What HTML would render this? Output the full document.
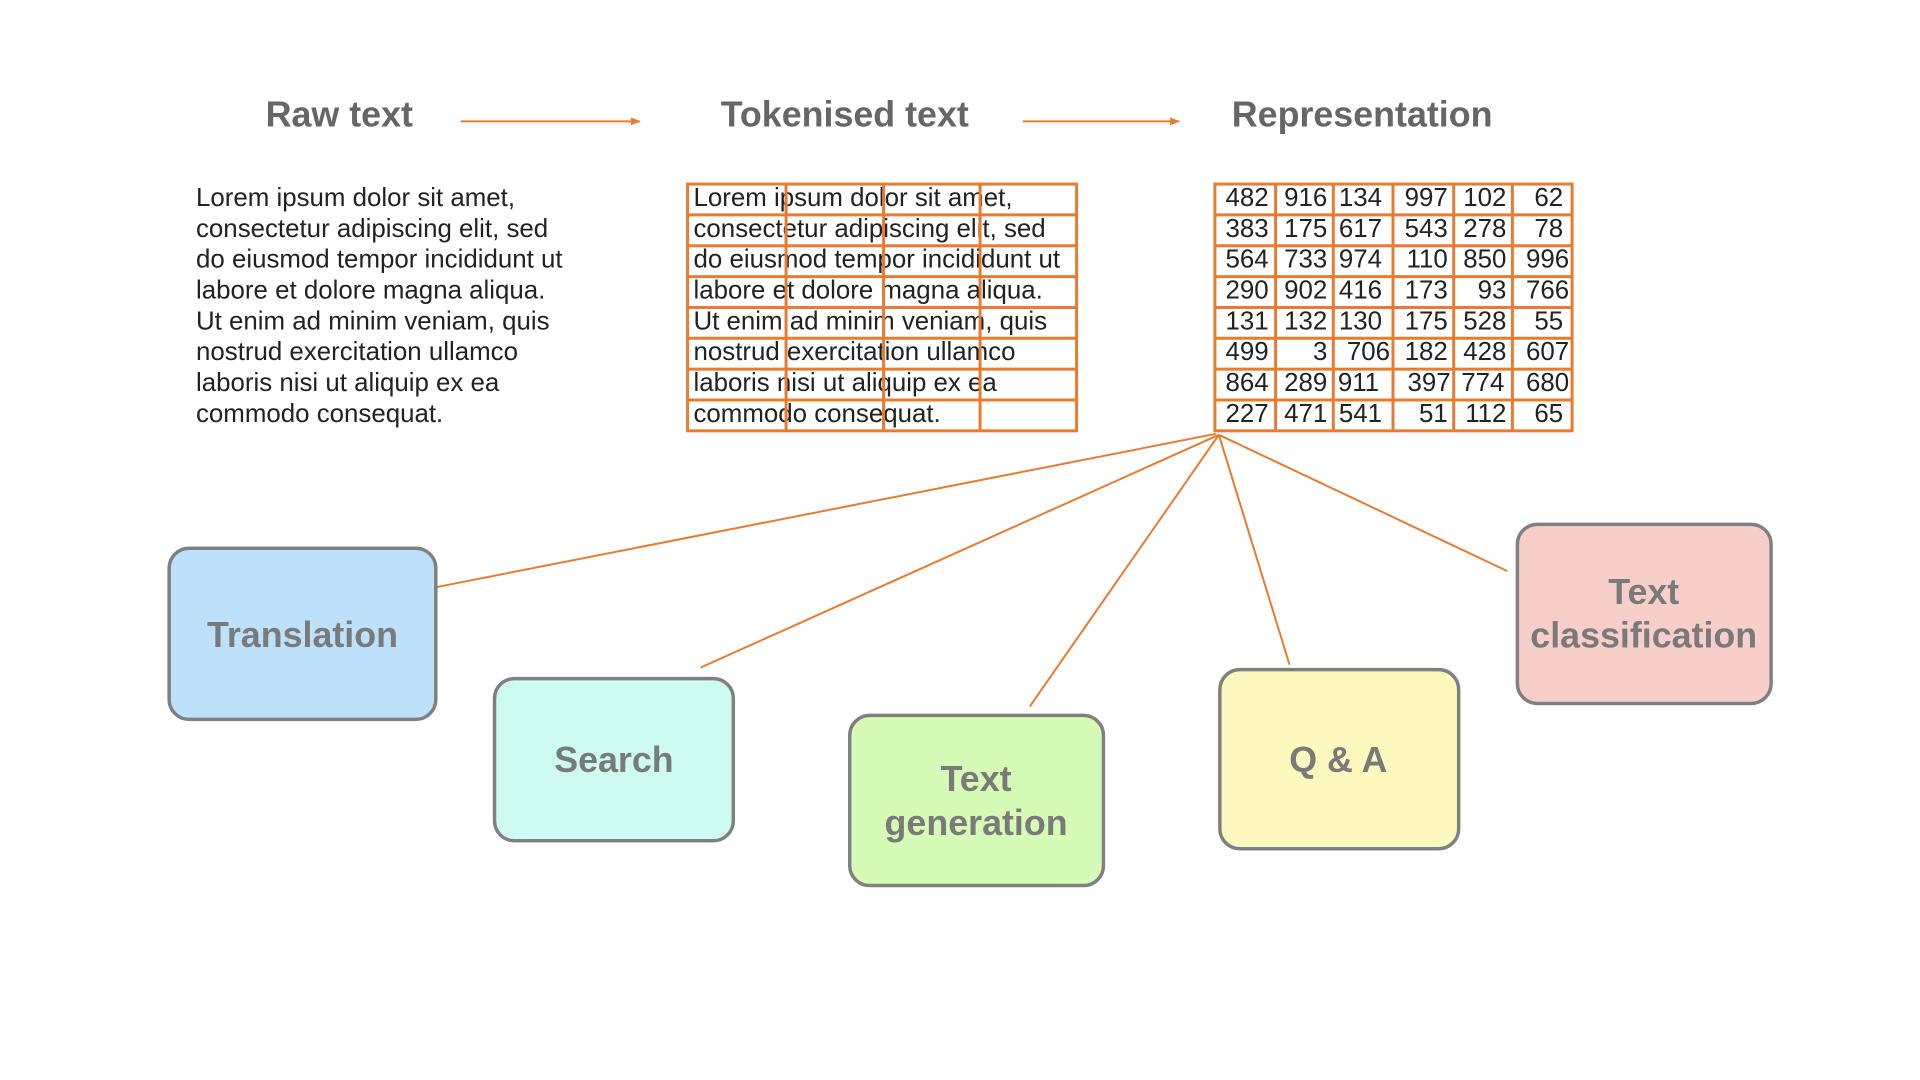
<!DOCTYPE html>
<html><head><meta charset="utf-8"><style>
html,body{margin:0;padding:0;background:#fff;}
svg{display:block;}
text{font-family:"Liberation Sans",Arial,sans-serif;}
</style></head><body>
<svg width="1920" height="1080" viewBox="0 0 1920 1080" xmlns="http://www.w3.org/2000/svg">
<defs><marker id="ah" markerWidth="10" markerHeight="8" refX="9" refY="4" orient="auto" markerUnits="userSpaceOnUse"><path d="M0,0 L10,4 L0,8 z" fill="#e87b2e"/></marker></defs>
<g transform="scale(0.995)">
<g font-weight="bold" font-size="36" fill="#666" text-anchor="middle">
<text x="341" y="127">Raw text</text>
<text x="849" y="127">Tokenised text</text>
<text x="1369" y="127">Representation</text>
</g>
<g stroke="#e87b2e" stroke-width="2" marker-end="url(#ah)">
<line x1="463" y1="122" x2="643" y2="122"/>
<line x1="1028" y1="122" x2="1185" y2="122"/>
</g>
<g font-size="26" fill="#222">
<text x="197" y="207">Lorem ipsum dolor sit amet,</text>
<text x="197" y="238">consectetur adipiscing elit, sed</text>
<text x="197" y="269">do eiusmod tempor incididunt ut</text>
<text x="197" y="300">labore et dolore magna aliqua.</text>
<text x="197" y="331">Ut enim ad minim veniam, quis</text>
<text x="197" y="362">nostrud exercitation ullamco</text>
<text x="197" y="393">laboris nisi ut aliquip ex ea</text>
<text x="197" y="424">commodo consequat.</text>
</g>
<g font-size="26" fill="#222">
<text x="697" y="207">Lorem ipsum dolor sit amet,</text>
<text x="697" y="238">consectetur adipiscing elit, sed</text>
<text x="697" y="269">do eiusmod tempor incididunt ut</text>
<text x="697" y="300">labore et dolore magna aliqua.</text>
<text x="697" y="331">Ut enim ad minim veniam, quis</text>
<text x="697" y="362">nostrud exercitation ullamco</text>
<text x="697" y="393">laboris nisi ut aliquip ex ea</text>
<text x="697" y="424">commodo consequat.</text>
</g>
<g stroke="#e87b2e" stroke-width="3" fill="none">
<rect x="691" y="185" width="391" height="248"/>
<line x1="790" y1="185" x2="790" y2="433"/>
<line x1="888" y1="185" x2="888" y2="433"/>
<line x1="985" y1="185" x2="985" y2="433"/>
<line x1="691" y1="216" x2="1082" y2="216"/>
<line x1="691" y1="247" x2="1082" y2="247"/>
<line x1="691" y1="278" x2="1082" y2="278"/>
<line x1="691" y1="309" x2="1082" y2="309"/>
<line x1="691" y1="340" x2="1082" y2="340"/>
<line x1="691" y1="371" x2="1082" y2="371"/>
<line x1="691" y1="402" x2="1082" y2="402"/>
<rect x="1221" y="185" width="359" height="248"/>
<line x1="1282" y1="185" x2="1282" y2="433"/>
<line x1="1340" y1="185" x2="1340" y2="433"/>
<line x1="1400" y1="185" x2="1400" y2="433"/>
<line x1="1461" y1="185" x2="1461" y2="433"/>
<line x1="1520" y1="185" x2="1520" y2="433"/>
<line x1="1221" y1="216" x2="1580" y2="216"/>
<line x1="1221" y1="247" x2="1580" y2="247"/>
<line x1="1221" y1="278" x2="1580" y2="278"/>
<line x1="1221" y1="309" x2="1580" y2="309"/>
<line x1="1221" y1="340" x2="1580" y2="340"/>
<line x1="1221" y1="371" x2="1580" y2="371"/>
<line x1="1221" y1="402" x2="1580" y2="402"/>
</g>
<g font-size="26" fill="#222" text-anchor="end">
<text y="207"><tspan x="1275">482</tspan><tspan x="1334">916</tspan><tspan x="1389">134</tspan><tspan x="1455">997</tspan><tspan x="1514">102</tspan><tspan x="1571">62</tspan></text>
<text y="238"><tspan x="1275">383</tspan><tspan x="1334">175</tspan><tspan x="1389">617</tspan><tspan x="1455">543</tspan><tspan x="1514">278</tspan><tspan x="1571">78</tspan></text>
<text y="269"><tspan x="1275">564</tspan><tspan x="1334">733</tspan><tspan x="1389">974</tspan><tspan x="1455">110</tspan><tspan x="1514">850</tspan><tspan x="1577">996</tspan></text>
<text y="300"><tspan x="1275">290</tspan><tspan x="1334">902</tspan><tspan x="1389">416</tspan><tspan x="1455">173</tspan><tspan x="1514">93</tspan><tspan x="1577">766</tspan></text>
<text y="331"><tspan x="1275">131</tspan><tspan x="1334">132</tspan><tspan x="1389">130</tspan><tspan x="1455">175</tspan><tspan x="1514">528</tspan><tspan x="1571">55</tspan></text>
<text y="362"><tspan x="1275">499</tspan><tspan x="1334">3</tspan><tspan x="1397">706</tspan><tspan x="1455">182</tspan><tspan x="1514">428</tspan><tspan x="1577">607</tspan></text>
<text y="393"><tspan x="1275">864</tspan><tspan x="1334">289</tspan><tspan x="1386">911</tspan><tspan x="1458">397</tspan><tspan x="1512">774</tspan><tspan x="1577">680</tspan></text>
<text y="424"><tspan x="1275">227</tspan><tspan x="1334">471</tspan><tspan x="1389">541</tspan><tspan x="1455">51</tspan><tspan x="1514">112</tspan><tspan x="1571">65</tspan></text>
</g>
<g stroke="#e87b2e" stroke-width="2" fill="none">
<line x1="1222" y1="436" x2="439" y2="590"/>
<line x1="1225" y1="437" x2="704" y2="671"/>
<line x1="1225" y1="437" x2="1035" y2="710"/>
<line x1="1225" y1="437" x2="1296" y2="668"/>
<line x1="1225" y1="437" x2="1515" y2="574"/>
</g>
<g stroke="#808080" stroke-width="3.5">
<rect x="170" y="551" width="268" height="172" rx="20" fill="#bde0fb"/>
<rect x="497" y="682" width="240" height="163" rx="20" fill="#cdfbf2"/>
<rect x="854" y="719" width="255" height="171" rx="20" fill="#d6fbb6"/>
<rect x="1226" y="673" width="240" height="180" rx="20" fill="#fdf8bd"/>
<rect x="1525" y="527" width="255" height="180" rx="20" fill="#f7cfc8"/>
</g>
<g font-weight="bold" font-size="36" fill="#7a7a7a" text-anchor="middle">
<text x="304" y="650">Translation</text>
<text x="617" y="776">Search</text>
<text x="981" y="795">Text</text>
<text x="981" y="839">generation</text>
<text x="1345" y="776">Q &amp; A</text>
<text x="1652" y="607">Text</text>
<text x="1652" y="651">classification</text>
</g>
</g>
</svg>
</body></html>
